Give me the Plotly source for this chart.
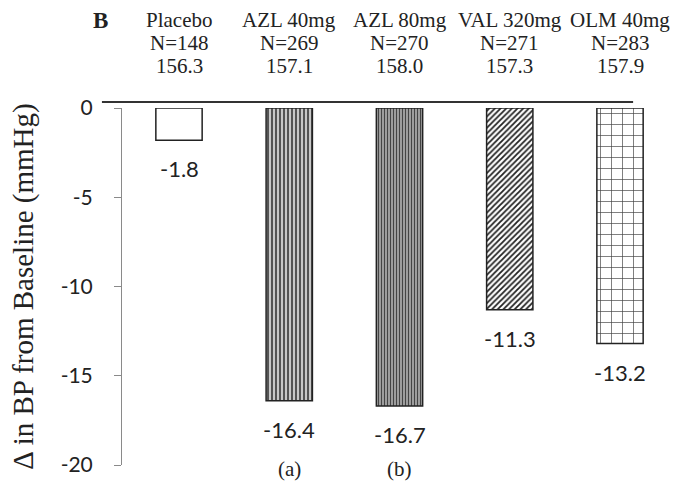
import plotly.graph_objects as go

groups = ["Placebo", "AZL 40mg", "AZL 80mg", "VAL 320mg", "OLM 40mg"]
n_values = ["N=148", "N=269", "N=270", "N=271", "N=283"]
baselines = ["156.3", "157.1", "158.0", "157.3", "157.9"]
changes = [-1.8, -16.4, -16.7, -11.3, -13.2]
footnotes = ["", "(a)", "(b)", "", ""]
tick_vals = [0, -5, -10, -15, -20]

x_pos = list(range(len(groups)))

pattern_shapes = ["", "|", "|", "/", "+"]
pattern_fg = ["#000000", "#555555", "#444444", "#222222", "#444444"]
pattern_bg = ["#ffffff", "#c8c8c8", "#bbbbbb", "#ffffff", "#ffffff"]
pattern_size = [8, 4, 3, 4, 11]
pattern_sol = [0.3, 0.5, 0.5, 0.45, 0.12]

fig = go.Figure()
fig.add_trace(go.Bar(
    x=x_pos, y=changes, width=0.42,
    marker=dict(
        color="#ffffff",
        line=dict(color="#222222", width=1.5),
        pattern=dict(shape=pattern_shapes, fgcolor=pattern_fg, bgcolor=pattern_bg,
                     size=pattern_size, solidity=pattern_sol, fillmode="replace"),
    ),
    showlegend=False, hoverinfo="skip",
))

serif = "Liberation Serif, serif"
sans = "Lato, sans-serif"

# value labels
for xi, v in zip(x_pos, changes):
    fig.add_annotation(x=xi, y=v, text=f"{v:.1f}", showarrow=False, yanchor="top",
                       yshift=-13, font=dict(family=sans, size=22, color="#222222"))

# header rows
for xi, g, n, b in zip(x_pos, groups, n_values, baselines):
    for yp, txt in ((1.246, g), (1.182, n), (1.118, b)):
        fig.add_annotation(x=xi, y=yp, yref="paper", text=txt, showarrow=False,
                           xanchor="center", yanchor="middle",
                           font=dict(family=serif, size=21, color="#222222"))

# footnote letters
for xi, f in zip(x_pos, footnotes):
    if f:
        fig.add_annotation(x=xi, y=-0.012, yref="paper", text=f, showarrow=False,
                           xanchor="center", yanchor="middle",
                           font=dict(family=serif, size=21, color="#222222"))

fig.add_annotation(x=-0.04, xref="paper", y=1.246, yref="paper", text="<b>B</b>",
                   showarrow=False, xanchor="center", yanchor="middle",
                   font=dict(family=serif, size=23, color="#222222"))

# top baseline line
fig.add_shape(type="line", xref="paper", yref="paper", x0=-0.038, x1=0.968,
              y0=1.017, y1=1.017, line=dict(color="#333333", width=2))

fig.update_xaxes(range=[-0.517, 4.272], showticklabels=False, showline=False,
                 showgrid=False, zeroline=False, ticks="", automargin=False)
fig.update_yaxes(range=[-20, 0], tickvals=tick_vals, ticktext=[str(t) for t in tick_vals],
                 showline=True, linecolor="#8a8a8a", linewidth=1, ticks="outside",
                 ticklen=7, tickcolor="#8a8a8a", showgrid=False, zeroline=False,
                 ticklabelstandoff=17, automargin=False,
                 tickfont=dict(family=sans, size=21, color="#222222"),
                 title=dict(text="Δ in BP from Baseline (mmHg)",
                            font=dict(family=serif, size=29, color="#222222"),
                            standoff=18))

fig.update_layout(width=691, height=486, margin=dict(l=122, r=41, t=108, b=21),
                  plot_bgcolor="#ffffff", paper_bgcolor="#ffffff")

fig.write_html("out.html", config={"displayModeBar": False},
               post_script="document.body.style.margin='0';")
